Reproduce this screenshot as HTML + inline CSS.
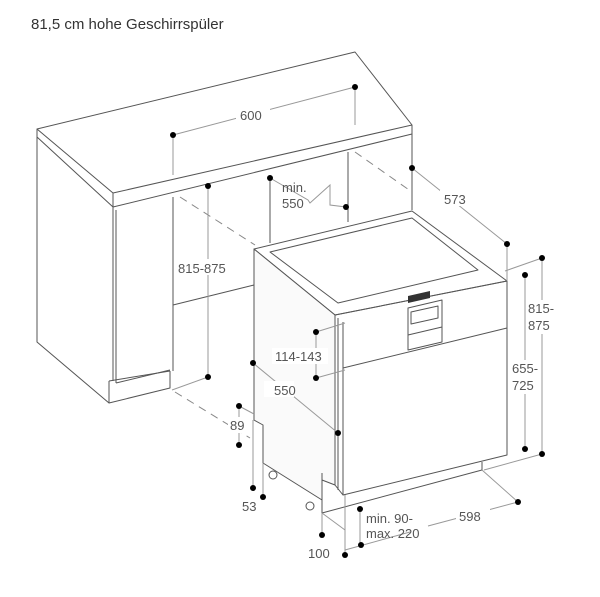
<!DOCTYPE html>
<html><head><meta charset="utf-8"><style>
html,body{margin:0;padding:0;background:#fff;}
svg{display:block;}
text{font-family:"Liberation Sans",sans-serif;font-size:13px;fill:#555;}
</style></head><body>
<svg width="600" height="597" viewBox="0 0 600 597" xmlns="http://www.w3.org/2000/svg">
<text x="31" y="29" style="font-size:15px;fill:#333">81,5 cm hohe Geschirrspüler</text>
<g fill="none" stroke="#555" stroke-width="1" stroke-linejoin="round">
<!-- countertop -->
<polygon points="37,129 355,52 412,125 113,193" fill="#fff"/>
<polyline points="37,129 37,137 113,207 412,134 412,125"/>
<line x1="113" y1="193" x2="113" y2="207"/>
<!-- left cabinet -->
<polyline points="37,137 37,342 109,403 109,381"/>
<polyline points="109,403 170,388 170,371"/>
<line x1="109" y1="381" x2="170" y2="371"/>
<line x1="113" y1="207" x2="113" y2="381"/>
<line x1="116" y1="210" x2="116" y2="383"/>
<line x1="173" y1="197" x2="173" y2="371"/>
<line x1="116" y1="383" x2="170" y2="370"/>
<line x1="173" y1="305" x2="254" y2="285"/>
<line x1="270" y1="178" x2="270" y2="243"/>
<line x1="348" y1="152" x2="348" y2="222"/>
<line x1="412" y1="134" x2="412" y2="210"/>
<!-- dishwasher -->
<polygon points="254,249 412,211 507,281 335,315" fill="#fff"/>
<polygon points="270,252 412,218 478,270 338,303"/>
<polygon points="254,249 335,315 335,485 322,480 322,500 263,463 263,425 254,420" fill="#fafafa"/>
<polyline points="335,315 507,281 507,455 343,495 343,322"/>
<line x1="343" y1="368" x2="507" y2="328"/>
<line x1="338" y1="318" x2="338" y2="490"/>
<polyline points="322,473 322,513 482,470 482,462"/>
<line x1="335" y1="485" x2="343" y2="495"/>
<polygon points="408,308 442,300 442,342 408,350"/>
<polygon points="411,312 438,306 438,318 411,324"/>
<line x1="408" y1="335" x2="442" y2="327"/>
<circle cx="273" cy="475" r="4" fill="#fff"/>
<circle cx="310" cy="506" r="4" fill="#fff"/>
</g>
<polygon points="408,296 430,291 430,298 408,303" fill="#333"/>
<!-- dashed -->
<g stroke="#888" stroke-width="1" stroke-dasharray="8,6" fill="none">
<line x1="180" y1="197" x2="255" y2="245"/>
<line x1="355" y1="152" x2="412" y2="192"/>
<line x1="175" y1="392" x2="250" y2="438"/>
</g>
<!-- dimension lines -->
<g stroke="#999" stroke-width="1" fill="none">
<line x1="173" y1="135" x2="355" y2="87"/>
<line x1="173" y1="135" x2="173" y2="175"/>
<line x1="355" y1="87" x2="355" y2="125"/>
<line x1="208" y1="186" x2="208" y2="377"/>
<line x1="208" y1="377" x2="172" y2="390"/>
<polyline points="270,178 308,200 310,203 330,185 330,205 346,207"/>
<line x1="412" y1="168" x2="507" y2="244"/>
<line x1="507" y1="244" x2="507" y2="281"/>
<line x1="542" y1="258" x2="542" y2="454"/>
<line x1="542" y1="258" x2="505" y2="271"/>
<line x1="542" y1="454" x2="484" y2="470"/>
<line x1="525" y1="275" x2="525" y2="449"/>
<line x1="316" y1="332" x2="316" y2="378"/>
<line x1="316" y1="332" x2="345" y2="323"/>
<line x1="316" y1="378" x2="345" y2="370"/>
<line x1="253" y1="363" x2="338" y2="433"/>
<line x1="239" y1="406" x2="239" y2="445"/>
<line x1="239" y1="406" x2="254" y2="414"/>
<line x1="253" y1="420" x2="253" y2="488"/>
<line x1="263" y1="463" x2="263" y2="497"/>
<line x1="322" y1="513" x2="322" y2="535"/>
<line x1="345" y1="495" x2="345" y2="555"/>
<line x1="322" y1="513" x2="345" y2="530"/>
<line x1="360" y1="509" x2="360" y2="545"/>
<line x1="482" y1="470" x2="518" y2="502"/>
<line x1="428" y1="526" x2="518" y2="502"/>
<line x1="345" y1="550" x2="410" y2="532"/>
</g>
<!-- labels with white bg -->
<g fill="#fff">
<rect x="236" y="106" width="34" height="16"/>
<rect x="177" y="259" width="62" height="16"/>
<rect x="515" y="360" width="22" height="34"/>
<rect x="531" y="300" width="24" height="34"/>
<rect x="272" y="348" width="56" height="16"/>
<rect x="264" y="381" width="30" height="16"/>
<rect x="228" y="417" width="22" height="16"/>
<rect x="456" y="508" width="34" height="16"/>
<rect x="440" y="190" width="34" height="16"/>
</g>
<g fill="#000">
<circle cx="173" cy="135" r="3"/><circle cx="355" cy="87" r="3"/>
<circle cx="208" cy="186" r="3"/><circle cx="270" cy="178" r="3"/>
<circle cx="346" cy="207" r="3"/><circle cx="412" cy="168" r="3"/>
<circle cx="507" cy="244" r="3"/><circle cx="542" cy="258" r="3"/>
<circle cx="525" cy="275" r="3"/><circle cx="316" cy="332" r="3"/>
<circle cx="316" cy="378" r="3"/><circle cx="253" cy="363" r="3"/>
<circle cx="208" cy="377" r="3"/><circle cx="239" cy="406" r="3"/>
<circle cx="239" cy="445" r="3"/><circle cx="338" cy="433" r="3"/>
<circle cx="525" cy="449" r="3"/><circle cx="542" cy="454" r="3"/>
<circle cx="253" cy="488" r="3"/><circle cx="263" cy="497" r="3"/>
<circle cx="360" cy="509" r="3"/><circle cx="518" cy="502" r="3"/>
<circle cx="361" cy="545" r="3"/><circle cx="322" cy="535" r="3"/>
<circle cx="345" cy="555" r="3"/>
</g>
<text x="240" y="120">600</text>
<text x="178" y="273">815-875</text>
<text x="282" y="192">min.</text>
<text x="282" y="208">550</text>
<text x="444" y="204">573</text>
<text x="528" y="313">815-</text>
<text x="528" y="330">875</text>
<text x="512" y="373">655-</text>
<text x="512" y="390">725</text>
<text x="275" y="361">114-143</text>
<text x="274" y="395">550</text>
<text x="230" y="430">89</text>
<text x="242" y="511">53</text>
<text x="308" y="558">100</text>
<text x="366" y="523">min. 90-</text>
<text x="366" y="538">max. 220</text>
<text x="459" y="521">598</text>
</svg>
</body></html>
